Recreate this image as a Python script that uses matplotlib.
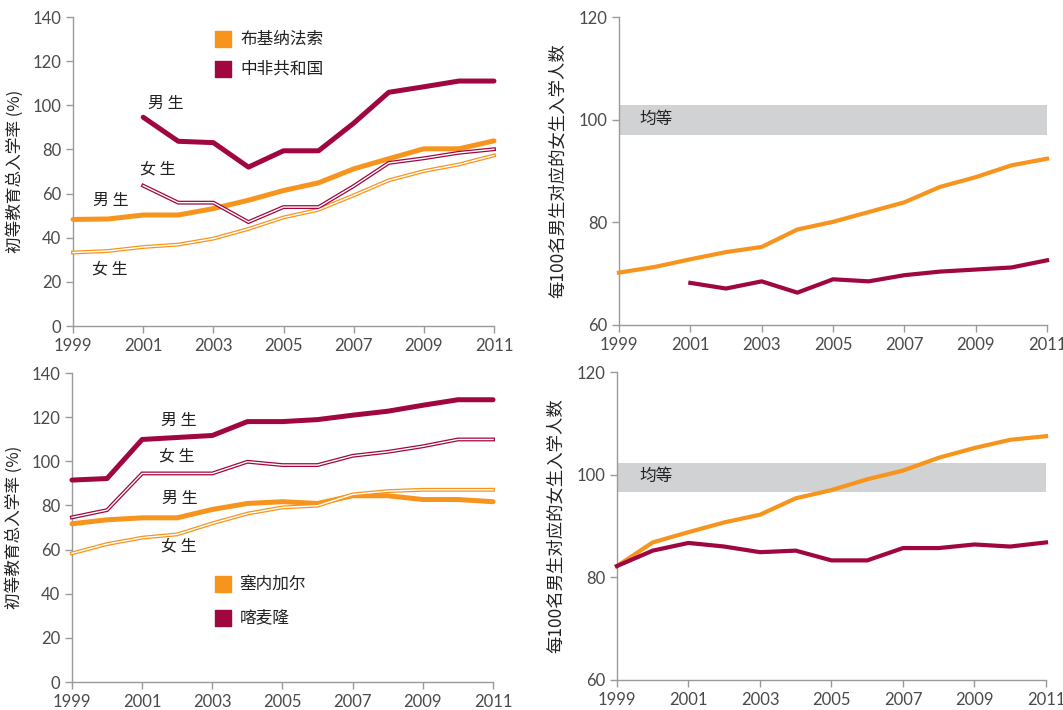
import matplotlib
matplotlib.use("Agg")
import matplotlib.pyplot as plt
import numpy as np

plt.rcParams['font.family'] = ['Lato', 'Noto Sans CJK SC', 'DejaVu Sans']

years = np.arange(1999, 2012)
years_car = np.arange(2001, 2012)

# Top-left: Burkina Faso & Central African Republic, gross enrolment ratio (%)
bf_boys = [48.3, 48.5, 50.3, 50.3, 53.2, 57.0, 61.4, 64.9, 71.2, 75.8, 80.3, 80.3, 83.9]
bf_girls = [33.3, 34.0, 35.8, 36.9, 39.6, 44.0, 49.2, 52.7, 59.2, 66.0, 70.2, 73.2, 77.3]
car_boys = [94.6, 83.7, 83.1, 72.0, 79.4, 79.4, 91.9, 105.9, 108.4, 111.0, 111.0]
car_girls = [63.6, 55.9, 55.9, 47.1, 53.9, 53.9, 63.4, 73.9, 76.0, 78.5, 80.1]

# Top-right: girls per 100 boys
bf_ratio = [70.2, 71.3, 72.8, 74.2, 75.2, 78.6, 80.1, 82.0, 83.9, 86.9, 88.8, 91.1, 92.4]
car_ratio = [68.2, 67.1, 68.5, 66.3, 68.9, 68.5, 69.7, 70.4, 70.8, 71.2, 72.6]

# Bottom-left: Senegal & Cameroon
sn_boys = [71.7, 73.5, 74.4, 74.4, 78.2, 80.9, 81.7, 80.9, 84.4, 84.4, 82.7, 82.7, 81.7]
sn_girls = [58.3, 62.5, 65.4, 66.9, 71.9, 76.3, 79.1, 79.9, 85.0, 86.5, 87.1, 87.1, 87.1]
cm_boys = [91.5, 92.2, 109.9, 110.8, 111.7, 118.0, 118.0, 118.9, 120.9, 122.7, 125.4, 127.9, 127.9]
cm_girls = [74.6, 77.9, 94.5, 94.5, 94.5, 99.8, 98.3, 98.3, 102.5, 104.3, 106.8, 109.9, 109.9]

# Bottom-right
sn_ratio = [82.2, 86.8, 88.8, 90.7, 92.2, 95.4, 97.0, 99.1, 100.8, 103.3, 105.2, 106.8, 107.5]
cm_ratio = [82.2, 85.2, 86.7, 86.0, 84.9, 85.2, 83.3, 83.3, 85.7, 85.7, 86.4, 86.0, 86.8]

parity_top = (97.1, 102.8)
parity_bottom = (96.7, 102.3)

ORANGE = '#F7941D'
MAROON = '#A0063F'
GRID = '#9a9a9a'
TXT = '#4a4a4a'
CJK = ['Noto Sans CJK SC', 'DejaVu Sans']

fig = plt.figure(figsize=(10.63, 7.10), dpi=100)
ax_tl = fig.add_axes([0.0687, 0.5408, 0.3960, 0.4352])
ax_tr = fig.add_axes([0.5823, 0.5423, 0.4027, 0.4337])
ax_bl = fig.add_axes([0.0677, 0.0394, 0.3961, 0.4352])
ax_br = fig.add_axes([0.5804, 0.0423, 0.4036, 0.4337])


def style(ax, ylim, yticks):
    ax.set_xlim(1999, 2011)
    ax.set_ylim(*ylim)
    ax.set_yticks(yticks)
    ax.set_xticks(range(1999, 2012, 2))
    for s in ['top', 'right']:
        ax.spines[s].set_visible(False)
    for s in ['left', 'bottom']:
        ax.spines[s].set_color(GRID)
        ax.spines[s].set_linewidth(1.0)
    ax.tick_params(colors=GRID, labelcolor=TXT, labelsize=12, length=5, width=1.0)


def thick(ax, x, y, c):
    ax.plot(x, y, color=c, lw=3.6, solid_capstyle='round', solid_joinstyle='round', clip_on=False, zorder=3)


def double(ax, x, y, c):
    ax.plot(x, y, color=c, lw=2.8, solid_joinstyle='miter', clip_on=False, zorder=4)
    ax.plot(x, y, color='white', lw=1.0, solid_joinstyle='miter', clip_on=False, zorder=5)


LBL = dict(family=CJK, fontsize=11.5, color='#222222', ha='center', va='center')

# --- Top-left
style(ax_tl, (0, 140), range(0, 141, 20))
thick(ax_tl, years, bf_boys, ORANGE)
double(ax_tl, years, bf_girls, ORANGE)
thick(ax_tl, years_car, car_boys, MAROON)
double(ax_tl, years_car, car_girls, MAROON)
ax_tl.text(2001.65, 101, '男 生', **LBL)
ax_tl.text(2001.42, 71, '女 生', **LBL)
ax_tl.text(2000.08, 57, '男 生', **LBL)
ax_tl.text(2000.05, 26, '女 生', **LBL)
ax_tl.scatter([2003.28], [130], marker='s', s=120, color=ORANGE, zorder=6)
ax_tl.scatter([2003.28], [116.5], marker='s', s=120, color=MAROON, zorder=6)
ax_tl.text(2003.76, 130, '布基纳法索', family=CJK, fontsize=12, color='#222222', va='center')
ax_tl.text(2003.76, 116.5, '中非共和国', family=CJK, fontsize=12, color='#222222', va='center')
ax_tl.set_ylabel('初等教育总入学率 (%)', family=CJK, fontsize=12, color='#222222', labelpad=6)

# --- Top-right
style(ax_tr, (60, 120), range(60, 121, 20))
ax_tr.axhspan(*parity_top, color='#D1D2D4', lw=0, zorder=1)
ax_tr.plot(years, bf_ratio, color=ORANGE, lw=3.0, zorder=3, clip_on=False)
ax_tr.plot(years_car, car_ratio, color=MAROON, lw=3.0, zorder=3, clip_on=False)
ax_tr.text(2000.05, 100, '均等', family=CJK, fontsize=12, color='#222222', ha='center', va='center', zorder=4)
ax_tr.set_ylabel('每100名男生对应的女生入学人数', family=CJK, fontsize=12.5, color='#222222', labelpad=8)

# --- Bottom-left
style(ax_bl, (0, 140), range(0, 141, 20))
thick(ax_bl, years, sn_boys, ORANGE)
double(ax_bl, years, sn_girls, ORANGE)
thick(ax_bl, years, cm_boys, MAROON)
double(ax_bl, years, cm_girls, MAROON)
ax_bl.text(2002.05, 118.7, '男 生', **LBL)
ax_bl.text(2002.0, 102.4, '女 生', **LBL)
ax_bl.text(2002.07, 83.4, '男 生', **LBL)
ax_bl.text(2002.05, 61.6, '女 生', **LBL)
ax_bl.scatter([2003.3], [44.4], marker='s', s=120, color=ORANGE, zorder=6)
ax_bl.scatter([2003.3], [29], marker='s', s=120, color=MAROON, zorder=6)
ax_bl.text(2003.78, 44.4, '塞内加尔', family=CJK, fontsize=12, color='#222222', va='center')
ax_bl.text(2003.78, 29, '喀麦隆', family=CJK, fontsize=12, color='#222222', va='center')
ax_bl.set_ylabel('初等教育总入学率 (%)', family=CJK, fontsize=12, color='#222222', labelpad=6)

# --- Bottom-right
style(ax_br, (60, 120), range(60, 121, 20))
ax_br.axhspan(*parity_bottom, color='#D1D2D4', lw=0, zorder=1)
ax_br.plot(years, sn_ratio, color=ORANGE, lw=3.0, zorder=3, clip_on=False)
ax_br.plot(years, cm_ratio, color=MAROON, lw=3.0, zorder=3, clip_on=False)
ax_br.text(2000.1, 99.6, '均等', family=CJK, fontsize=12, color='#222222', ha='center', va='center', zorder=4)
ax_br.set_ylabel('每100名男生对应的女生入学人数', family=CJK, fontsize=12.5, color='#222222', labelpad=8)

fig.savefig('out.png', dpi=100)
